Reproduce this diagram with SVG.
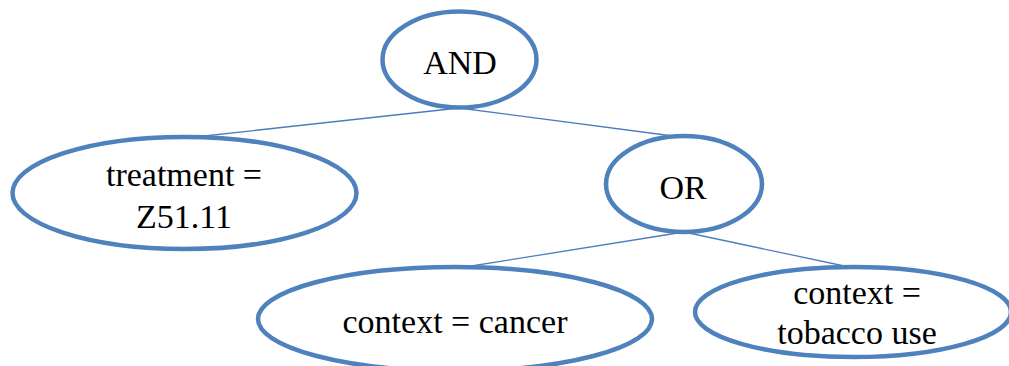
<svg xmlns="http://www.w3.org/2000/svg" width="1009" height="366" viewBox="0 0 1009 366">
<style>
.node ellipse{fill:#ffffff;stroke:#4f81bd;stroke-width:4.5}
.edge{stroke:#4a7ebb;stroke-width:1.3;fill:none}
text{font-family:"Liberation Serif","Times New Roman",serif;font-size:34px;fill:#000;text-anchor:middle}
</style>
<rect width="1009" height="366" fill="#ffffff"/>
<g id="connectors">
<line class="edge" x1="459" y1="108" x2="195" y2="137"/>
<line class="edge" x1="459" y1="108" x2="673" y2="136"/>
<line class="edge" x1="684" y1="232" x2="465" y2="267"/>
<line class="edge" x1="684" y1="232" x2="849" y2="267"/>
</g>
<g id="node-and" class="node">
<ellipse cx="459.5" cy="59.5" rx="77" ry="48"/>
<text x="460" y="74">AND</text>
</g>
<g id="node-treatment" class="node">
<ellipse cx="184.5" cy="193" rx="172" ry="56"/>
<text x="184" y="186">treatment =</text>
<text x="184" y="228">Z51.11</text>
</g>
<g id="node-or" class="node">
<ellipse cx="684" cy="184" rx="78" ry="48"/>
<text x="683" y="199">OR</text>
</g>
<g id="node-cancer" class="node">
<ellipse cx="455" cy="319" rx="197" ry="52"/>
<text x="455" y="333">context = cancer</text>
</g>
<g id="node-tobacco" class="node">
<ellipse cx="853" cy="312" rx="158" ry="45"/>
<text x="857" y="304">context =</text>
<text x="857" y="344">tobacco use</text>
</g>
</svg>
